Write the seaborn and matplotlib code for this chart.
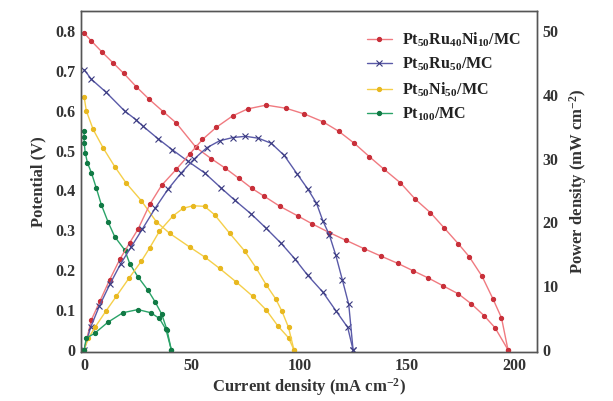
import numpy as np
import pandas as pd
import matplotlib
matplotlib.use("Agg")
import matplotlib.pyplot as plt
import seaborn as sns

# ---- data ----
labels = [r"Pt$_{50}$Ru$_{40}$Ni$_{10}$/MC", r"Pt$_{50}$Ru$_{50}$/MC",
          r"Pt$_{50}$Ni$_{50}$/MC", r"Pt$_{100}$/MC"]

# Polarization curves (current density, potential)
red_j_v = [0, 3.4, 8.4, 13.5, 18.4, 24.3, 30.2, 36.7, 42.7, 52, 59, 65.3, 72, 78, 83.8, 91,
           99.3, 106, 114, 121.6, 130, 138, 145.7, 153, 160, 167, 174, 180, 186, 191, 197]
red_v = [0.795, 0.775, 0.747, 0.72, 0.694, 0.66, 0.629, 0.598, 0.57, 0.508, 0.48, 0.457, 0.43,
         0.405, 0.385, 0.36, 0.336, 0.316, 0.294, 0.275, 0.254, 0.235, 0.217, 0.198, 0.18,
         0.16, 0.14, 0.115, 0.085, 0.055, 0.0]

blue_j_v = [0, 3.4, 10.3, 18.9, 24, 27.4, 34.3, 41, 48.3, 56, 63.7, 69.9, 77.6, 84.6, 91.6,
            97.8, 103.9, 110.9, 117, 122.5, 125]
blue_v = [0.703, 0.679, 0.646, 0.599, 0.578, 0.561, 0.53, 0.502, 0.473, 0.444, 0.406, 0.376,
          0.341, 0.305, 0.267, 0.229, 0.187, 0.145, 0.098, 0.056, 0.0]

yel_j_v = [0, 1, 4.2, 8.8, 14.2, 19.6, 26.6, 33.6, 39.8, 49, 56, 63, 70.7, 78.4, 84.6, 90,
           95, 97.5]
yel_v = [0.635, 0.60, 0.553, 0.507, 0.46, 0.418, 0.374, 0.321, 0.292, 0.258, 0.233, 0.204,
         0.17, 0.134, 0.1, 0.06, 0.03, 0.0]

grn_j_v = [0, 0, 0, 0.5, 1.5, 3.4, 5.7, 8, 11.1, 14.2, 18.9, 21.2, 25, 29.7, 33, 36, 38.5, 40.5]
grn_v = [0.55, 0.535, 0.52, 0.495, 0.47, 0.444, 0.405, 0.364, 0.321, 0.284, 0.25, 0.216,
         0.183, 0.149, 0.12, 0.09, 0.05, 0.0]

# Power density curves (current density, power)
red_j_p = [0, 3.4, 7.3, 11.9, 16.6, 21.2, 25, 30.5, 36, 42.8, 49, 55, 61.4, 69, 76, 84.6,
           93.9, 102.4, 110.9, 118.3, 125.6, 132.6, 139.5, 147, 154, 161, 167.4, 174, 179,
           185, 190, 194, 197]
red_p = [0, 4.7, 7.6, 11, 14.2, 16.8, 18.9, 22.8, 25.8, 28.3, 30.7, 33, 34.9, 36.7, 37.8,
         38.4, 37.9, 37.0, 35.8, 34.3, 32.4, 30.3, 28.3, 26.2, 23.6, 21.5, 19.1, 16.6, 14.6,
         11.5, 8, 5, 0]

blue_j_p = [0, 3, 7, 12, 17, 22, 27, 33, 39, 45, 51, 57, 63, 69, 75, 81, 87, 93, 99, 104,
            108, 111, 114, 117, 120, 123, 125]
blue_p = [0, 3.5, 6.8, 10.3, 13.5, 16.2, 18.9, 22.2, 25.2, 27.7, 29.9, 31.7, 32.8, 33.3,
          33.5, 33.2, 32.4, 30.5, 27.6, 25.2, 23.0, 20.2, 18.0, 14.8, 11.0, 7.1, 0]

yel_j_p = [0, 2, 5, 10, 15, 21, 26.6, 30.5, 35, 41.3, 46, 50.6, 56, 60.6, 67.6, 74.6, 80,
           84.6, 89, 92, 95, 97.5]
yel_p = [0, 1.8, 3.5, 6, 8.4, 11.3, 13.9, 16, 18.6, 21, 22.2, 22.6, 22.5, 21.2, 18.3, 15.5,
         12.8, 10.2, 8, 6, 3.5, 0]

grn_j_p = [0, 1, 5, 11, 18, 25, 31, 35, 38, 40.5]
grn_p = [0, 1.8, 2.6, 4.3, 5.8, 6.3, 5.8, 4.9, 3.2, 0]

x_ticks = [0, 50, 100, 150, 200]
y_ticks = [0, 0.1, 0.2, 0.3, 0.4, 0.5, 0.6, 0.7, 0.8]
y_tick_labels = ["0", "0.1", "0.2", "0.3", "0.4", "0.5", "0.6", "0.7", "0.8"]
p_ticks = [0, 10, 20, 30, 40, 50]

# ---- style ----
sns.set_style("white")
plt.rcParams["font.family"] = ["Liberation Serif", "DejaVu Serif"]
plt.rcParams["font.weight"] = "bold"
plt.rcParams["mathtext.fontset"] = "custom"
plt.rcParams["mathtext.rm"] = "Liberation Serif:bold"
plt.rcParams["mathtext.it"] = "Liberation Serif:bold"
plt.rcParams["mathtext.bf"] = "Liberation Serif:bold"
plt.rcParams["mathtext.default"] = "rm"

line_colors = ["#f07a80", "#5a5aa8", "#f5cf4a", "#2aa368"]
mark_colors = ["#c8303a", "#3a3a80", "#e8b820", "#117a45"]
markers = ["o", "x", "o", "o"]

fig = plt.figure(figsize=(6.13, 4.01), dpi=100)
ax = fig.add_axes([0.132, 0.122, 0.744, 0.851])
ax2 = ax.twinx()

pol = [(red_j_v, red_v), (blue_j_v, blue_v), (yel_j_v, yel_v), (grn_j_v, grn_v)]
pwr = [(red_j_p, red_p), (blue_j_p, blue_p), (yel_j_p, yel_p), (grn_j_p, grn_p)]

handles = []
for i in range(4):
    dfv = pd.DataFrame({"j": pol[i][0], "v": pol[i][1]})
    dfp = pd.DataFrame({"j": pwr[i][0], "p": pwr[i][1]})
    ms = 3.0 if markers[i] == "o" else 3.8
    sns.lineplot(data=dfv, x="j", y="v", ax=ax, sort=False, estimator=None,
                 color=line_colors[i], lw=1.0, marker=markers[i], markersize=ms,
                 markerfacecolor=mark_colors[i], markeredgecolor=mark_colors[i],
                 markeredgewidth=0.8)
    sns.lineplot(data=dfp, x="j", y="p", ax=ax2, sort=False, estimator=None,
                 color=line_colors[i], lw=1.0, marker=markers[i], markersize=ms,
                 markerfacecolor=mark_colors[i], markeredgecolor=mark_colors[i],
                 markeredgewidth=0.8)
    handles.append(ax.lines[-1])

ax.set_xlim(-1.5, 210.5)
ax.set_ylim(-0.006, 0.851)
ax2.set_ylim(-0.375, 53.2)

ax.set_xticks(x_ticks)
ax.set_xticklabels([str(t) for t in x_ticks])
ax.set_yticks(y_ticks)
ax.set_yticklabels(y_tick_labels)
ax2.set_yticks(p_ticks)
ax2.set_yticklabels([str(t) for t in p_ticks])

for a in (ax, ax2):
    a.tick_params(length=0, labelsize=11.5, pad=4, colors="#333333")
    for lab in a.get_xticklabels() + a.get_yticklabels():
        lab.set_fontweight("bold")
    for s in a.spines.values():
        s.set_color("#555555")
        s.set_linewidth(1.0)

ax.set_xlabel(r"Current density (mA cm$^{-2}$)", fontsize=12, fontweight="bold",
              color="#333333", labelpad=2)
ax.set_ylabel("Potential (V)", fontsize=12, fontweight="bold", color="#333333", labelpad=6)
ax2.set_ylabel(r"Power density (mW cm$^{-2}$)", fontsize=12, fontweight="bold",
               color="#333333", labelpad=6)

leg = ax.legend(handles, labels, loc="upper right", frameon=False,
                prop={"family": "Liberation Serif", "weight": "bold", "size": 11.5},
                handlelength=1.6, handletextpad=0.6, labelspacing=0.45,
                bbox_to_anchor=(0.995, 0.985))
for t in leg.get_texts():
    t.set_color("#222222")

fig.savefig("out.png", dpi=100)
